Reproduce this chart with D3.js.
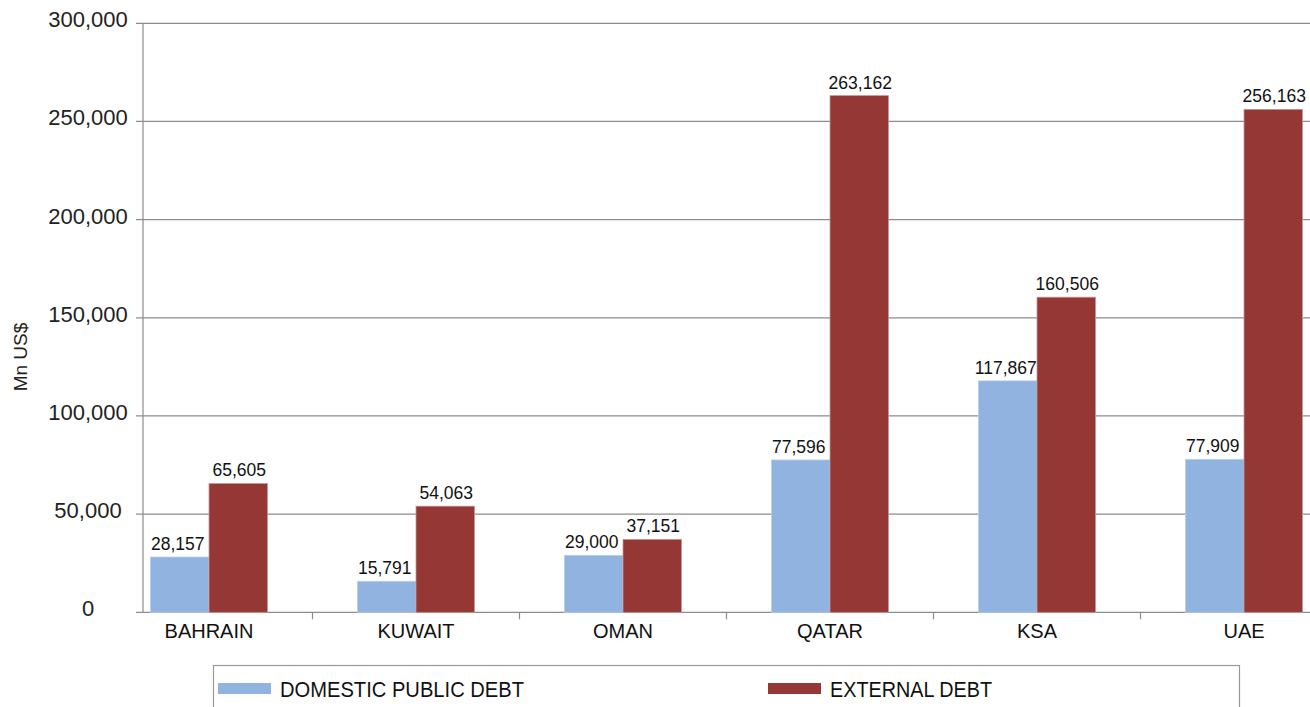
<!DOCTYPE html>
<html><head><meta charset="utf-8">
<script src="https://cdn.jsdelivr.net/npm/d3@7"></script>
<style>body{margin:0;background:#fff}svg{display:block;font-family:"Liberation Sans",Arial,sans-serif}</style>
</head><body>
<svg id="c" width="1310" height="707"></svg>
<script>
const categories = ["BAHRAIN","KUWAIT","OMAN","QATAR","KSA","UAE"];
const domesticDebt = [28157,15791,29000,77596,117867,77909];
const externalDebt = [65605,54063,37151,263162,160506,256163];
const seriesNames = ["DOMESTIC PUBLIC DEBT","EXTERNAL DEBT"];
const yTicks = [0,50000,100000,150000,200000,250000,300000];
const yTickLabels = ["0","50,000","100,000","150,000","200,000","250,000","300,000"];
const colors = ["#91b3e0","#953735"];

const svg = d3.select("#c");
const axisX = 143, rightX = 1310;
const y = d3.scaleLinear().domain([0,300000]).range([612.3,23.3]);
const x = d3.scaleBand().domain(categories).range([105.5,105.5+6*207]).paddingInner(0).paddingOuter(0);
const groupW = 117;
const xs = d3.scaleBand().domain([0,1]).range([0,groupW]);
const gridC = "#8c8c8c";

// gridlines + y ticks
svg.append("g").selectAll("line").data(yTicks).join("line")
  .attr("x1",136).attr("x2",rightX).attr("y1",d=>y(d)).attr("y2",d=>y(d))
  .attr("stroke",gridC).attr("stroke-width",1.2);
svg.append("g").selectAll("text").data(yTicks).join("text")
  .attr("x",88).attr("y",d=>y(d)+4).attr("text-anchor","middle")
  .attr("font-size",22).attr("fill","#222").text((d,i)=>yTickLabels[i]);
// y axis line
svg.append("line").attr("x1",axisX).attr("x2",axisX).attr("y1",y(300000)).attr("y2",y(0)).attr("stroke",gridC).attr("stroke-width",1.2);
// x ticks at band boundaries
svg.append("g").selectAll("line").data(categories.slice(1)).join("line")
  .attr("x1",d=>x(d)).attr("x2",d=>x(d)).attr("y1",y(0)).attr("y2",y(0)+7)
  .attr("stroke",gridC).attr("stroke-width",1.2);
// y title
svg.append("text").attr("transform","translate(27,357) rotate(-90)").attr("text-anchor","middle")
  .attr("font-size",19).attr("fill","#222").text("Mn US$");

// bars
const series = [domesticDebt, externalDebt];
series.forEach((vals,si)=>{
  const g = svg.append("g");
  g.selectAll("rect").data(categories).join("rect")
    .attr("x",(d)=>x(d)+x.bandwidth()/2-groupW/2+xs(si))
    .attr("width",xs.bandwidth())
    .attr("y",(d,i)=>y(vals[i]))
    .attr("height",(d,i)=>y(0)-y(vals[i]))
    .attr("fill",colors[si]).attr("stroke",si?"#c09a99":"#b9cdea").attr("stroke-width",0.8);
  g.selectAll("text").data(categories).join("text")
    .attr("x",(d)=>x(d)+x.bandwidth()/2-groupW/2+xs(si)+xs.bandwidth()/2+ (si?1:-2))
    .attr("y",(d,i)=>y(vals[i])-7)
    .attr("text-anchor","middle").attr("font-size",17.5).attr("fill","#111")
    .text((d,i)=>d3.format(",")(vals[i]));
});

// category labels
svg.append("g").selectAll("text").data(categories).join("text")
  .attr("x",d=>x(d)+x.bandwidth()/2).attr("y",638)
  .attr("text-anchor","middle").attr("font-size",20).attr("fill","#111").text(d=>d);

// legend
svg.append("rect").attr("x",213.5).attr("y",665.5).attr("width",1026).attr("height",60)
  .attr("fill","none").attr("stroke","#999").attr("stroke-width",1.2);
const legX = [218,768], legTW = [244,162];
seriesNames.forEach((n,i)=>{
  svg.append("rect").attr("x",legX[i]).attr("y",683).attr("width",53).attr("height",11).attr("fill",colors[i]);
  svg.append("text").attr("x",legX[i]+62).attr("y",697).attr("font-size",22).attr("fill","#111")
    .attr("textLength",legTW[i]).attr("lengthAdjust","spacingAndGlyphs").text(n);
});
</script>
</body></html>
